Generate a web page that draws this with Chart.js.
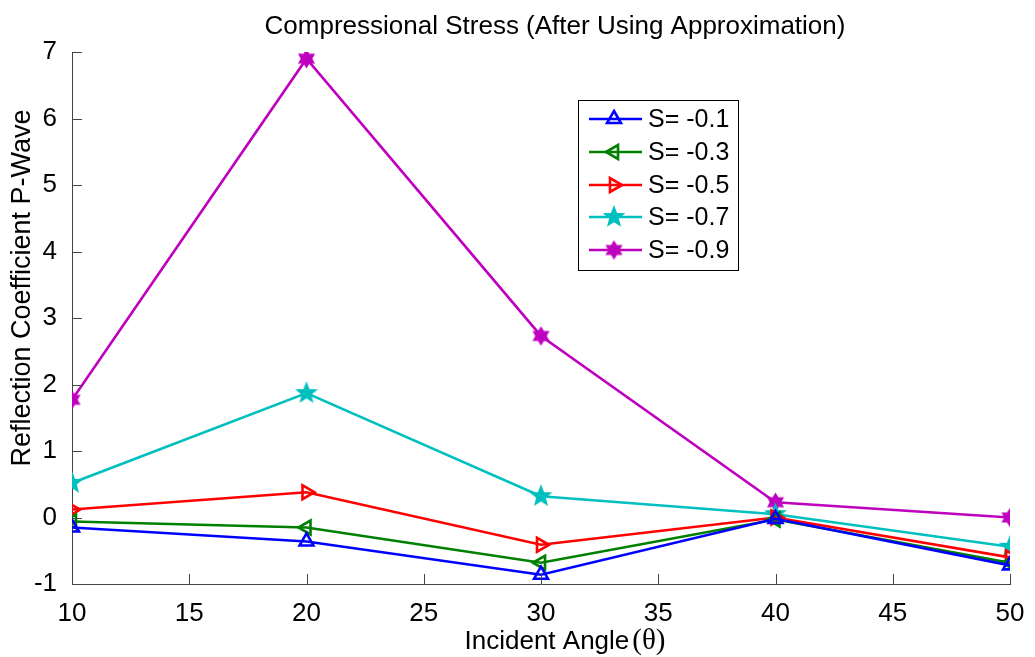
<!DOCTYPE html>
<html>
<head>
<meta charset="utf-8">
<script src="https://cdn.jsdelivr.net/npm/chart.js@4/dist/chart.umd.min.js"></script>
<style>
  html, body { margin: 0; padding: 0; background: #fff; }
  #wrap { width: 1035px; height: 657px; }
</style>
</head>
<body>
<div id="wrap"><canvas id="chart"></canvas></div>
<script>
// DATA
// -----------------------------------------------------------------------------
var angles = [10, 20, 30, 40, 50];
var s01 = [-0.15, -0.36, -0.86, -0.02, -0.72];
var s03 = [-0.06, -0.15, -0.68, -0.03, -0.68];
var s05 = [0.12, 0.38, -0.41, 0.00, -0.60];
var s07 = [0.52, 1.87, 0.32, 0.05, -0.44];
var s09 = [1.77, 6.90, 2.73, 0.23, 0.00];
var seriesLabels = ['S= -0.1', 'S= -0.3', 'S= -0.5', 'S= -0.7', 'S= -0.9'];
var xTicks = [10, 15, 20, 25, 30, 35, 40, 45, 50];
var yTicks = [-1, 0, 1, 2, 3, 4, 5, 6, 7];

var FONT = '"Liberation Sans", Arial, sans-serif';
var SERIF = '"Liberation Serif", "Times New Roman", serif';

// star markers drawn on small canvases
function starImage(points, outer, inner, color) {
    var size = outer * 2 + 4;
    var c = document.createElement('canvas');
    c.width = size; c.height = size;
    var g = c.getContext('2d');
    var cx = size / 2, cy = size / 2;
    g.beginPath();
    for (var i = 0; i < points * 2; i++) {
        var r = (i % 2 === 0) ? outer : inner;
        var a = -Math.PI / 2 + i * Math.PI / points;
        var px = cx + r * Math.cos(a), py = cy + r * Math.sin(a);
        if (i === 0) g.moveTo(px, py); else g.lineTo(px, py);
    }
    g.closePath();
    g.fillStyle = color;
    g.strokeStyle = color;
    g.lineWidth = 1.4;
    g.fill();
    g.stroke();
    return c;
}
var pentagram = starImage(5, 10, 4.3, '#00bfbf');
var hexagram = starImage(6, 8.5, 5, '#bf00bf');

function pts(ys) {
    return angles.map(function(a, i) { return { x: a, y: ys[i] }; });
}

function makeSet(label, ys, color, style, rot) {
    return {
        label: label,
        data: pts(ys),
        borderColor: color,
        backgroundColor: 'rgba(255,255,255,0)',
        borderWidth: 2.6,
        pointStyle: style,
        pointRotation: rot,
        pointRadius: 8,
        pointBorderWidth: 2.6,
        pointBorderColor: color,
        pointBackgroundColor: 'rgba(255,255,255,0)',
        tension: 0
    };
}

var datasets = [
    makeSet(seriesLabels[0], s01, '#0000ff', 'triangle', 0),
    makeSet(seriesLabels[1], s03, '#008000', 'triangle', -90),
    makeSet(seriesLabels[2], s05, '#ff0000', 'triangle', 90),
    makeSet(seriesLabels[3], s07, '#00bfbf', pentagram, 0),
    makeSet(seriesLabels[4], s09, '#bf00bf', hexagram, 0)
];

// Decorations: inward ticks, titles, legend box
var decor = {
    id: 'decor',
    afterDraw: function(chart) {
        var ctx = chart.ctx;
        var xs = chart.scales.x, ys = chart.scales.y;
        var area = chart.chartArea;
        ctx.save();

        // inward ticks
        ctx.strokeStyle = '#444';
        ctx.lineWidth = 1;
        xTicks.forEach(function(v) {
            var px = Math.round(xs.getPixelForValue(v)) + 0.5;
            ctx.beginPath();
            ctx.moveTo(px, area.bottom);
            ctx.lineTo(px, area.bottom - 10);
            ctx.stroke();
        });
        yTicks.forEach(function(v) {
            var py = Math.round(ys.getPixelForValue(v)) + 0.5;
            ctx.beginPath();
            ctx.moveTo(area.left, py);
            ctx.lineTo(area.left + 10, py);
            ctx.stroke();
        });

        // title
        ctx.fillStyle = '#000';
        ctx.font = '26px ' + FONT;
        ctx.textAlign = 'center';
        ctx.textBaseline = 'middle';
        ctx.fillText('Compressional Stress (After Using Approximation)', 555, 27);

        // x axis title, theta in serif
        ctx.textBaseline = 'alphabetic';
        ctx.font = '26px ' + FONT;
        var t1 = 'Incident Angle';
        var w1 = ctx.measureText(t1).width;
        ctx.font = '29px ' + SERIF;
        var t2 = '(\u03b8)';
        var w2 = ctx.measureText(t2).width;
        var start = 565 - (w1 + 3 + w2) / 2;
        ctx.textAlign = 'left';
        ctx.font = '26px ' + FONT;
        ctx.fillText(t1, start, 649);
        ctx.font = '29px ' + SERIF;
        ctx.fillText(t2, start + w1 + 3, 649);

        // y axis title
        ctx.save();
        ctx.translate(23, 288);
        ctx.rotate(-Math.PI / 2);
        ctx.font = '27px ' + FONT;
        ctx.textAlign = 'center';
        ctx.textBaseline = 'middle';
        ctx.fillText('Reflection Coefficient P-Wave', 0, 0);
        ctx.restore();

        // legend
        var bx = 578.5, by = 100.5, bw = 160, bh = 170;
        ctx.fillStyle = '#fff';
        ctx.fillRect(bx, by, bw, bh);
        ctx.strokeStyle = '#000';
        ctx.lineWidth = 1;
        ctx.strokeRect(bx, by, bw, bh);
        var rows = [119, 152, 185, 217, 250];
        ctx.font = '25px ' + FONT;
        ctx.textAlign = 'left';
        ctx.textBaseline = 'middle';
        datasets.forEach(function(ds, i) {
            var ry = rows[i];
            ctx.strokeStyle = ds.borderColor;
            ctx.lineWidth = 2.6;
            ctx.beginPath();
            ctx.moveTo(589, ry);
            ctx.lineTo(642, ry);
            ctx.stroke();
            ctx.fillStyle = 'rgba(255,255,255,0)';
            Chart.helpers.drawPoint(ctx, {
                pointStyle: ds.pointStyle,
                rotation: ds.pointRotation,
                radius: 8,
                borderWidth: 2.6
            }, 614, ry);
            ctx.fillStyle = '#000';
            ctx.fillText(ds.label, 648, ry + 1);
        });
        ctx.restore();
    }
};

var ctxChart = document.getElementById('chart');
var lineChart = new Chart(ctxChart, {
    type: 'line',
    data: { datasets: datasets },
    options: {
        responsive: true,
        maintainAspectRatio: false,
        animation: false,
        layout: { padding: { top: 52, right: 25, left: 0, bottom: 0 } },
        plugins: {
            legend: { display: false },
            title: { display: false },
            tooltip: { enabled: false }
        },
        scales: {
            x: {
                type: 'linear',
                min: 10,
                max: 50,
                afterFit: function(s) { s.height = 73; },
                afterBuildTicks: function(s) {
                    s.ticks = xTicks.map(function(v) { return { value: v }; });
                },
                grid: { display: false },
                border: { display: true, color: '#444', width: 1 },
                ticks: {
                    color: '#000',
                    padding: 6,
                    maxRotation: 0,
                    autoSkip: false,
                    font: { family: FONT, size: 26 }
                }
            },
            y: {
                type: 'linear',
                min: -1,
                max: 7,
                afterFit: function(s) { s.width = 72; },
                afterBuildTicks: function(s) {
                    s.ticks = yTicks.map(function(v) { return { value: v }; });
                },
                grid: { display: false },
                border: { display: true, color: '#444', width: 1 },
                ticks: {
                    color: '#000',
                    padding: 7,
                    autoSkip: false,
                    font: { family: FONT, size: 26 }
                }
            }
        }
    },
    plugins: [decor]
});
</script>
</body>
</html>
